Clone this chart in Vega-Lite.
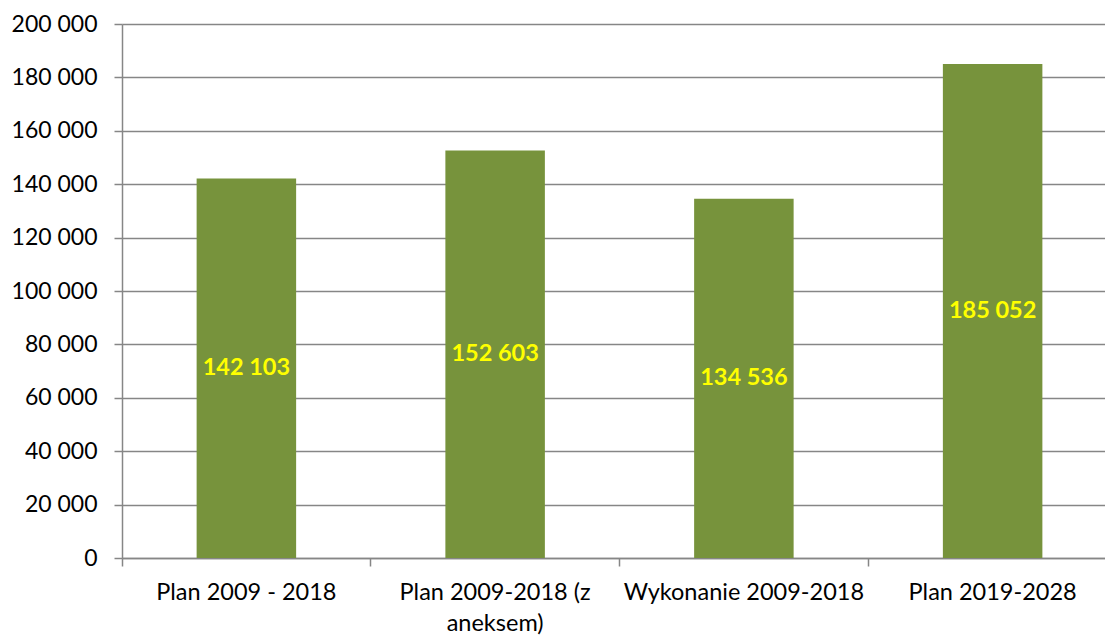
{
  "$schema": "https://vega.github.io/schema/vega-lite/v6.json",
  "autosize": "none",
  "width": 983,
  "height": 534,
  "padding": {"left": 122, "top": 24, "right": 0, "bottom": 78},
  "background": "white",
  "config": {
    "view": {"stroke": null},
    "font": "Lato",
    "locale": {"number": {"decimal": ",", "thousands": " ", "grouping": [3], "currency": ["", ""]}}
  },
  "data": {"values": [
    {"kategoria": "Plan 2009 - 2018", "wartosc": 142103},
    {"kategoria": "Plan 2009-2018 (z aneksem)", "wartosc": 152603},
    {"kategoria": "Wykonanie 2009-2018", "wartosc": 134536},
    {"kategoria": "Plan 2019-2028", "wartosc": 185052}
  ]},
  "encoding": {
    "x": {
      "field": "kategoria", "type": "nominal", "sort": null,
      "scale": {"range": [0, 995], "paddingInner": 0, "paddingOuter": 0},
      "axis": {
        "title": null, "labelAngle": 0, "bandPosition": 0, "grid": false,
        "domainColor": "#868686", "domainWidth": 1.5, "tickColor": "#868686", "tickWidth": 1.5, "tickSize": 8,
        "labelFont": "Lato", "labelFontSize": 23.5, "labelColor": "#000000", "labelPadding": 14,
        "labelLineHeight": 31, "labelLimit": 400, "labelBaseline": "top",
        "labelExpr": "datum.label == 'Plan 2009-2018 (z aneksem)' ? ['Plan 2009-2018 (z', 'aneksem)'] : datum.label"
      }
    }
  },
  "layer": [
    {
      "mark": {"type": "bar", "color": "#77933C", "width": {"band": 0.4}},
      "encoding": {
        "y": {
          "field": "wartosc", "type": "quantitative",
          "scale": {"domain": [0, 200000], "nice": false},
          "axis": {
            "title": null, "values": [0, 20000, 40000, 60000, 80000, 100000, 120000, 140000, 160000, 180000, 200000],
            "format": ",d", "grid": true, "gridColor": "#868686", "gridWidth": 1.5,
            "domainColor": "#868686", "domainWidth": 1.5, "tickColor": "#868686", "tickWidth": 1.5, "tickSize": 8,
            "labelFont": "Lato", "labelFontSize": 23, "labelColor": "#000000", "labelPadding": 17
          }
        }
      }
    },
    {
      "mark": {"type": "text", "color": "#FFFF00", "fontWeight": "bold", "fontSize": 23.5, "font": "Lato", "baseline": "middle", "align": "center"},
      "encoding": {
        "y": {"field": "wartosc", "type": "quantitative", "scale": {"domain": [0, 400000], "nice": false}, "axis": null},
        "text": {"field": "wartosc", "type": "quantitative", "format": ",d"}
      }
    }
  ],
  "resolve": {"scale": {"y": "independent"}}
}
